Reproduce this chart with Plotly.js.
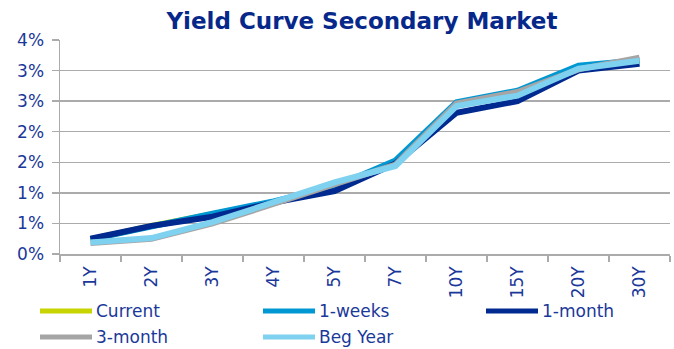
<!DOCTYPE html>
<html>
<head>
<meta charset="utf-8">
<script src="https://cdn.plot.ly/plotly-3.0.1.min.js"></script>
<style>html,body{margin:0;padding:0;background:#fff;}#chart{width:674px;height:349px;}</style>
</head>
<body>
<div id="chart"></div>
<script>
// ---- data ----
var categories = ["1Y","2Y","3Y","4Y","5Y","7Y","10Y","15Y","20Y","30Y"];
var seriesNames = ["Current","1-weeks","1-month","3-month","Beg Year"];
var current  = [0.24,0.46,0.65,0.85,1.08,1.50,2.45,2.64,3.05,3.16];
var oneWeek  = [0.24,0.46,0.66,0.86,1.10,1.53,2.48,2.67,3.08,3.17];
var oneMonth = [0.25,0.46,0.61,0.84,1.03,1.48,2.31,2.50,3.00,3.11];
var threeMonth = [0.18,0.25,0.50,0.82,1.15,1.46,2.46,2.65,3.02,3.21];
var begYear  = [0.19,0.26,0.52,0.84,1.17,1.44,2.42,2.59,3.03,3.16];
var yTickVals = [0,0.5,1,1.5,2,2.5,3,3.5];
var yTickLabels = ["0%","1%","1%","2%","2%","3%","3%","4%"];

// ---- styles ----
var colors = ["#C8D400","#0098D3","#002A8F","#A5A5A5","#7FD1F0"];
var seriesValues = [current, oneWeek, oneMonth, threeMonth, begYear];
var textBlue = "#1A3899";
var titleBlue = "#06288A";
var gridGray = "#ABABAB";
var FONT = "DejaVu Sans, Liberation Sans, Arial, sans-serif";

var traces = seriesValues.map(function(vals, i){
  return {
    type: "scatter", mode: "lines", name: seriesNames[i],
    x: categories, y: vals,
    line: {color: colors[i], width: 6},
    showlegend: false, hoverinfo: "x+y+name"
  };
});

// plot area in pixels (used for custom legend placement)
var M = {l: 60, r: 4, t: 40, b: 95};
var W = 674, H = 349;
var pw = W - M.l - M.r, ph = H - M.t - M.b;
function px2x(px){ return (px - M.l) / pw; }
function px2y(py){ return (H - M.b - py) / ph; }

var legendPos = [[40,311],[263,311],[486,311],[40,337],[263,337]];
var shapes = [], annotations = [];
seriesNames.forEach(function(n, i){
  var p = legendPos[i];
  shapes.push({type:"line", xref:"paper", yref:"paper",
    x0: px2x(p[0]), x1: px2x(p[0]+52), y0: px2y(p[1]), y1: px2y(p[1]),
    line:{color: colors[i], width: 5}});
  annotations.push({xref:"paper", yref:"paper", x: px2x(p[0]+54), y: px2y(p[1]),
    xanchor:"left", yanchor:"middle", showarrow:false, text: n,
    font:{family: FONT, size: 17, color: textBlue}});
});

var layout = {
  width: W, height: H,
  margin: M,
  paper_bgcolor: "#fff", plot_bgcolor: "#fff",
  showlegend: false,
  title: {text: "<b>Yield Curve Secondary Market</b>", x: 0.537, xanchor: "center", y: 0.94, yanchor: "middle",
          font: {family: FONT, size: 23, color: titleBlue}},
  xaxis: {
    type: "category", showgrid: false, showline: true, linecolor: gridGray, linewidth: 1.5,
    ticks: "outside", tickson: "boundaries", ticklen: 6, tickcolor: gridGray, tickwidth: 1.5,
    ticklabelstandoff: 4,
    tickangle: -90, tickfont: {family: FONT, size: 17, color: textBlue},
    range: [-0.5, 9.5], fixedrange: true
  },
  yaxis: {
    range: [0, 3.5], tickvals: yTickVals, ticktext: yTickLabels,
    showgrid: true, gridcolor: gridGray, gridwidth: 1.5, zeroline: false,
    showline: true, linecolor: gridGray, linewidth: 1.5,
    ticks: "outside", ticklen: 7, tickcolor: gridGray, tickwidth: 1.5,
    ticklabelstandoff: 4,
    tickfont: {family: FONT, size: 17, color: textBlue}, fixedrange: true
  },
  shapes: shapes,
  annotations: annotations
};

Plotly.newPlot("chart", traces, layout, {displayModeBar: false, staticPlot: true});
</script>
</body>
</html>
